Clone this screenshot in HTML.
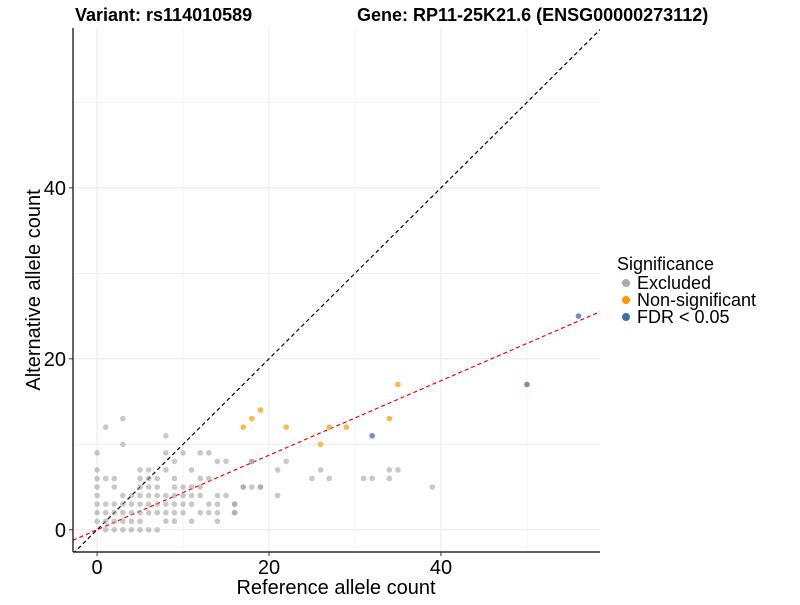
<!DOCTYPE html>
<html><head><meta charset="utf-8"><style>
body{margin:0;background:#fff;font-family:"Liberation Sans",Arial,sans-serif}
svg text{font-family:"Liberation Sans",Arial,sans-serif}
</style></head><body>
<svg id="chart" width="800" height="600" xmlns="http://www.w3.org/2000/svg">
<text x="75" y="21" font-size="18" font-weight="bold">Variant: rs114010589</text>
<text x="357" y="21" font-size="18" font-weight="bold">Gene: RP11-25K21.6 (ENSG00000273112)</text>
<g id="grid"></g>
<g id="lines"></g>
<g id="points"></g>
<g id="axes"></g>
<text x="336" y="594" font-size="20" text-anchor="middle">Reference allele count</text>
<text transform="translate(40,290) rotate(-90)" font-size="20" text-anchor="middle">Alternative allele count</text>
<g>
<text x="617" y="270" font-size="18">Significance</text>
<g><circle cx="626" cy="283" r="4" fill="#aaaaaa"/><text x="637" y="289" font-size="18">Excluded</text></g>
<g><circle cx="626" cy="300" r="4" fill="#ff9900"/><text x="637" y="306" font-size="18">Non-significant</text></g>
<g><circle cx="626" cy="317" r="4" fill="#3d6ea8"/><text x="637" y="323" font-size="18">FDR &lt; 0.05</text></g>
</g>
</svg>
<script>
const xTicks=[0,20,40];
const yTicks=[0,20,40];
const excludedX=[0,0,0,0,0,0,0,0, 1,1,1,1,1,1, 2,2,2,2,2,2, 3,3,3,3,3,3,3, 4,4,4,4,4, 5,5,5,5,5,5,5,5, 6,6,6,6,6,6,6, 7,7,7,7,7,7, 8,8,8,8,8,8,8, 9,9,9,9,9,9,9, 10,10,10,10,10, 11,11,11,11,11, 12,12,12,12,12, 13,13,13,13, 14,14,14,14,14, 15,15, 16,16, 17,18,18,19, 17,18,19,21,21,22,26,25,27,31,32,34,34,35,39,16,16];
const excludedY=[9,7,6,5,4,3,2,1, 12,6,3,2,1,0, 6,5,3,2,1,0, 13,10,4,3,2,1,0, 4,3,2,1,0, 7,6,5,4,3,2,1,0, 7,6,5,4,3,2,0, 6,5,4,3,2,0, 11,9,7,4,3,2,1, 8,6,5,4,3,2,1, 9,5,4,3,2, 7,5,4,3,1, 9,6,5,4,2, 9,6,3,2, 8,4,3,2,1, 8,4, 3,2, 5,8,5,5, 5,8,5,7,4,8,7,6,6,6,6,7,6,7,5,3,2];
const nonsigX=[17,18,19,22,26,27,29,34,35];
const nonsigY=[12,13,14,12,10,12,12,13,17];
const fdrX=[32,50,56];
const fdrY=[11,17,25];
const fitSlope=0.436;
const NS="http://www.w3.org/2000/svg";
const L=73,R=600,T=28,B=552;
const xMin=-2.8,xMax=58.5,yMin=-2.6,yMax=58.7;
const sx=v=>L+(v-xMin)/(xMax-xMin)*(R-L);
const sy=v=>B-(v-yMin)/(yMax-yMin)*(B-T);
function mk(tag,attrs,parent){const e=document.createElementNS(NS,tag);for(const k in attrs)e.setAttribute(k,attrs[k]);parent.appendChild(e);return e;}
const grid=document.getElementById('grid');
for(let v=0;v<=50;v+=10){
 const lx=mk('line',{x1:sx(v),x2:sx(v),y1:T,y2:B,stroke:'#ebebeb','stroke-width':v%20===0?1.1:0.6},grid);
 
 
 const ly=mk('line',{x1:L,x2:R,y1:sy(v),y2:sy(v),stroke:'#ebebeb','stroke-width':v%20===0?1.1:0.6},grid);
 
 
}
const pts=document.getElementById('points');
function drawSeries(xs,ys,color,op,name){
 for(let i=0;i<xs.length;i++){
  const c=mk('circle',{cx:sx(xs[i]),cy:sy(ys[i]),r:2.8,fill:color,'fill-opacity':op},pts);
  
  
 }
}
drawSeries(excludedX,excludedY,'#9a9a9a',0.55,'excluded-point');
drawSeries(nonsigX,nonsigY,'#ff9900',0.7,'non-significant-point');
drawSeries(fdrX,fdrY,'#3d6ea8',0.75,'fdr-point');
const lines=document.getElementById('lines');
const cp=mk('clipPath',{id:'clip'},document.getElementById('chart'));
mk('rect',{x:L,y:T,width:R-L,height:B-T},cp);
const idl=mk('line',{x1:sx(xMin),y1:sy(xMin),x2:sx(xMax),y2:sy(xMax),stroke:'#000','stroke-width':1.2,'stroke-dasharray':'4,3','clip-path':'url(#clip)'},lines);


const fl=mk('line',{x1:sx(xMin),y1:sy(xMin*fitSlope),x2:sx(xMax),y2:sy(xMax*fitSlope),stroke:'#ff0000','stroke-width':1.2,'stroke-dasharray':'4,3','clip-path':'url(#clip)'},lines);


const ax=document.getElementById('axes');
const xa=mk('line',{x1:L,x2:R,y1:B,y2:B,stroke:'#000','stroke-width':1.2},ax);


const ya=mk('line',{x1:L,x2:L,y1:T,y2:B,stroke:'#000','stroke-width':1.2},ax);


xTicks.forEach(v=>{
 mk('line',{x1:sx(v),x2:sx(v),y1:B,y2:B+4,stroke:'#333'},ax);
 const t=mk('text',{x:sx(v),y:B+22,'font-size':20,'text-anchor':'middle'},ax);
 t.textContent=v;
 
 
});
yTicks.forEach(v=>{
 mk('line',{x1:L-4,x2:L,y1:sy(v),y2:sy(v),stroke:'#333'},ax);
 const t=mk('text',{x:L-7,y:sy(v)+7,'font-size':20,'text-anchor':'end'},ax);
 t.textContent=v;
 
 
});
</script>
</body></html>
